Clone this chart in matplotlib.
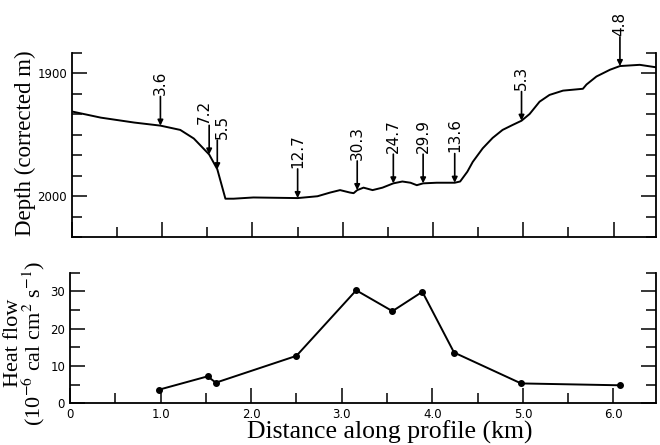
import matplotlib.pyplot as plt
from matplotlib.ticker import MultipleLocator, FixedLocator, FuncFormatter

# bathymetric profile (km, corrected depth m)
profile_km = [0.0, 0.32, 0.69, 0.98, 1.20, 1.35, 1.52, 1.61, 1.67, 1.70, 1.79,
              2.01, 2.50, 2.72, 2.86, 2.97, 3.08, 3.12, 3.16, 3.23, 3.33, 3.44,
              3.56, 3.66, 3.75, 3.82, 3.89, 4.04, 4.24, 4.30, 4.38, 4.44, 4.55,
              4.66, 4.77, 4.88, 4.98, 5.07, 5.18, 5.29, 5.44, 5.66, 5.70, 5.81,
              5.96, 6.07, 6.29, 6.47]
profile_depth = [1931, 1936, 1940, 1942.5, 1946, 1953, 1966, 1978, 1994, 2002, 2002,
                 2001, 2001.5, 2000, 1997, 1995, 1997, 1997.5, 1995, 1993, 1995, 1993,
                 1989.5, 1988, 1989, 1991, 1989.5, 1989, 1989, 1988, 1980, 1972, 1961,
                 1952.5, 1946, 1942, 1938.5, 1933, 1923, 1917.5, 1914, 1912.5, 1909, 1902.5,
                 1897, 1894, 1893, 1895]

# heat flow stations
station_km = [0.98, 1.52, 1.61, 2.50, 3.16, 3.56, 3.89, 4.24, 4.98, 6.07]
station_depth = [1942.5, 1966, 1978, 2001.5, 1995, 1989.5, 1989.5, 1989, 1938.5, 1894]
heat_flow = [3.6, 7.2, 5.5, 12.7, 30.3, 24.7, 29.9, 13.6, 5.3, 4.8]

# the two crowded labels are nudged sideways, as in the original
label_dx = {7.2: -3.5, 5.5: 3.5}

plt.rcParams['mathtext.fontset'] = 'stix'
serif = 'Liberation Serif'
sans = 'DejaVu Sans'

fig = plt.figure(figsize=(6.6, 4.45), dpi=100)
ax1 = fig.add_axes([0.109, 0.467, 0.885, 0.414])
ax2 = fig.add_axes([0.106, 0.094, 0.888, 0.293])

# --- top: depth profile with station arrows
ax1.plot(profile_km, profile_depth, color='black', lw=1.4)
for x, d, q in zip(station_km, station_depth, heat_flow):
    ax1.annotate('', xy=(x, d), xytext=(0, 21), textcoords='offset points',
                 arrowprops=dict(arrowstyle='-|>', color='black', lw=1.2,
                                 mutation_scale=8, shrinkA=0, shrinkB=0))
    ax1.annotate(f'{q}', xy=(x, d), xytext=(label_dx.get(q, 0), 22),
                 textcoords='offset points', rotation=90, ha='center',
                 va='bottom', fontsize=11, family=sans)
ax1.set_xlim(0, 6.47)
ax1.set_ylim(2000 + 200 / 6, 1900 - 100 / 6)
ax1.yaxis.set_major_locator(FixedLocator([1900, 2000]))
ax1.yaxis.set_minor_locator(FixedLocator([1900 + k * 100 / 6 for k in range(-1, 9)]))
ax1.xaxis.set_major_locator(MultipleLocator(1.0))
ax1.xaxis.set_minor_locator(MultipleLocator(0.5))
ax1.tick_params(labelbottom=False)
ax1.set_ylabel('Depth (corrected m)', family=serif, fontsize=16.5)
ax1.yaxis.set_label_coords(-0.062, 0.51)

# --- bottom: heat flow
ax2.plot(station_km, heat_flow, color='black', lw=1.4, marker='o', ms=4)
ax2.set_xlim(0, 6.47)
ax2.set_ylim(0, 35)
ax2.yaxis.set_major_locator(MultipleLocator(10))
ax2.yaxis.set_minor_locator(MultipleLocator(5))
ax2.xaxis.set_major_locator(MultipleLocator(1.0))
ax2.xaxis.set_minor_locator(MultipleLocator(0.5))
ax2.xaxis.set_major_formatter(FuncFormatter(lambda v, p: '0' if v == 0 else f'{v:.1f}'))
ax2.set_ylabel('Heat flow\n(10$^{-6}$ cal cm$^{2}$ s$^{-1}$)', family=serif,
               fontsize=16, linespacing=0.85)
ax2.yaxis.set_label_coords(-0.039, 0.46)
ax2.set_xlabel('Distance along profile (km)', family=serif, fontsize=18.5)
ax2.xaxis.set_label_coords(0.546, -0.13)

for ax in (ax1, ax2):
    ax.spines['top'].set_visible(False)
    for s in ('left', 'right', 'bottom'):
        ax.spines[s].set_linewidth(1.3)
    ax.tick_params(which='both', direction='in', left=True, right=True,
                   bottom=True, top=False, width=1.1)
    ax.tick_params(which='major', length=11)
    ax.tick_params(which='minor', length=7)
    for lab in ax.get_xticklabels() + ax.get_yticklabels():
        lab.set_family(sans)
        lab.set_fontsize(8.5)

fig.savefig('out.png', dpi=100)
